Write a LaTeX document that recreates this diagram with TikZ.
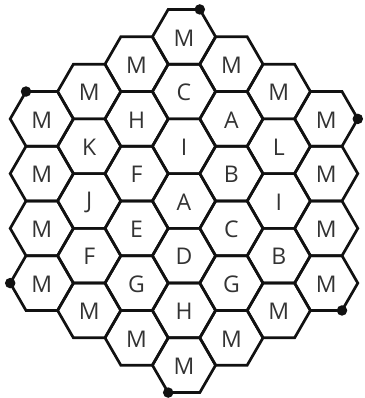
\documentclass[tikz,border=0pt]{standalone}
\usepackage{fontspec}
\setmainfont{Open Sans}
\definecolor{edgecol}{HTML}{111111}
\definecolor{textcol}{HTML}{333333}
\begin{document}
\begin{tikzpicture}[x=1pt,y=1pt,
  lab/.style={text=textcol,font=\fontsize{23}{28}\selectfont,inner sep=0pt},
  edge/.style={draw=edgecol,line width=2.7pt,line join=miter},
  dotmark/.style={fill=edgecol,circle,inner sep=0pt,minimum size=10.5pt}]
\def\R{31.6}
\useasboundingbox (0,0) rectangle (364,398);
\foreach \c/\labs in {-3/{M,M,M,M},-2/{M,K,J,F,M},-1/{M,H,F,E,G,M},0/{M,C,I,A,D,H,M},1/{M,A,B,C,G,M},2/{M,L,I,B,M},3/{M,M,M,M}}{
  \foreach \l [count=\j from 0] in \labs {
    \pgfmathsetmacro\n{7-abs(\c)}
    \pgfmathsetmacro\x{184+\c*1.5*\R}
    \pgfmathsetmacro\y{197-1.7320508*\R*(\j-(\n-1)/2)}
    \node[lab] (h\c-\j) at (\x,\y-1) {\l};
    \draw[edge] (\x+\R,\y) -- ++(120:\R) -- ++(180:\R) -- ++(240:\R) -- ++(300:\R) -- ++(0:\R) -- cycle;
  }
}
\node[dotmark] (d1) at ([shift={(60:\R)},yshift=1pt]h0-0.center) {};
\node[dotmark] (d2) at ([shift={(0:\R)},yshift=1pt]h3-0.center) {};
\node[dotmark] (d3) at ([shift={(-60:\R)},yshift=1pt]h3-3.center) {};
\node[dotmark] (d4) at ([shift={(-120:\R)},yshift=1pt]h0-6.center) {};
\node[dotmark] (d5) at ([shift={(180:\R)},yshift=1pt]h-3-3.center) {};
\node[dotmark] (d6) at ([shift={(120:\R)},yshift=1pt]h-3-0.center) {};
\end{tikzpicture}
\end{document}
